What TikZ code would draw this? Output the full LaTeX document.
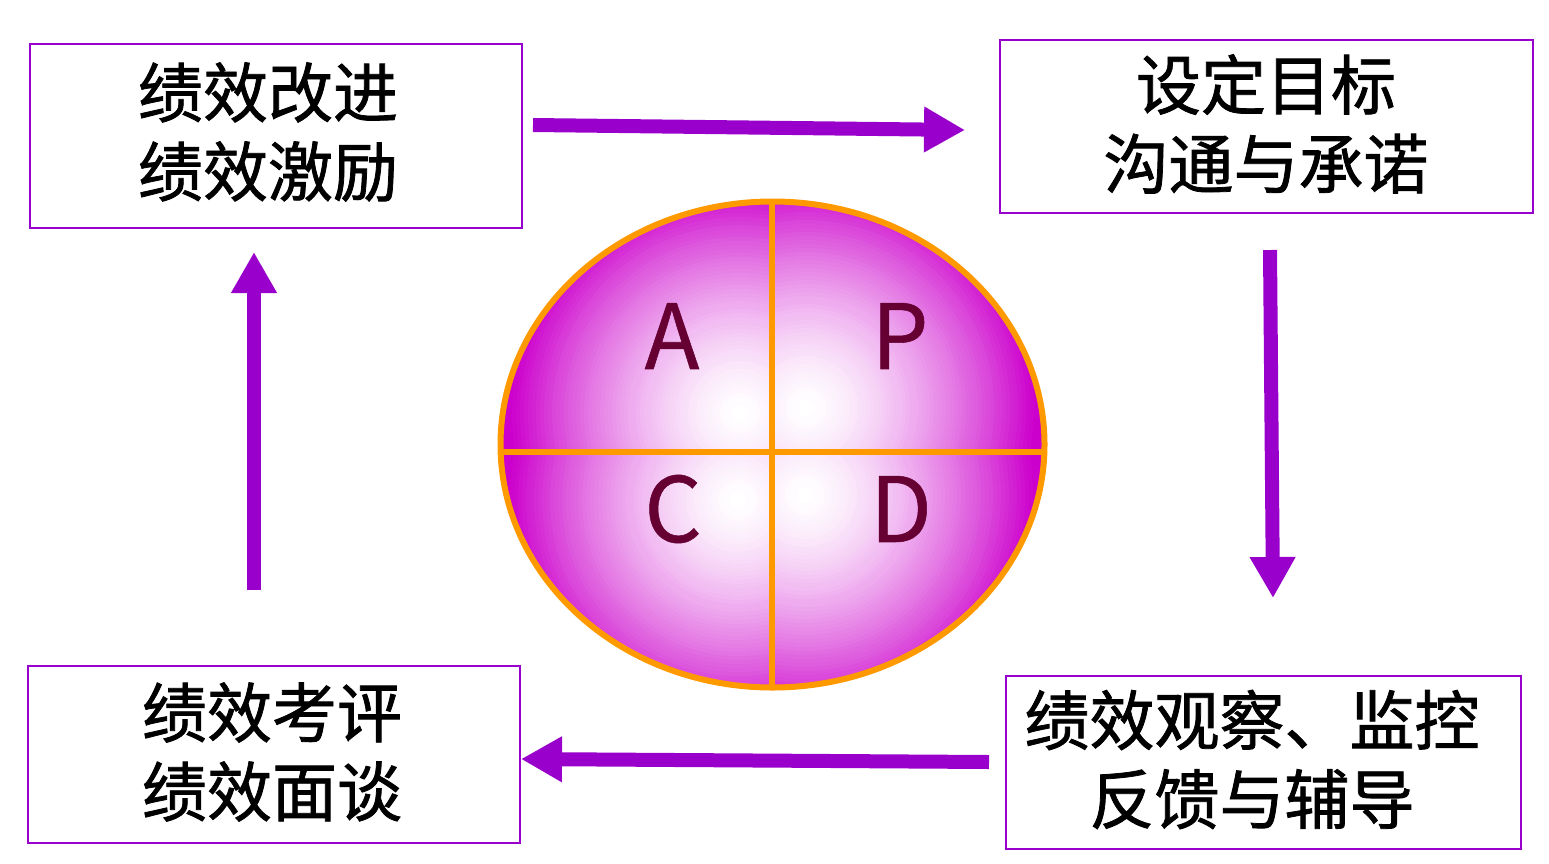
\documentclass[tikz,border=0pt]{standalone}
\usepackage{fontspec}
\newfontfamily\cjk[FakeBold=1.2]{Noto Sans CJK SC}
\newfontfamily\latn[FakeBold=0.6]{Noto Sans CJK SC}
\usetikzlibrary{arrows.meta}
\definecolor{arrowc}{HTML}{9900CC}
\definecolor{boxc}{HTML}{9900CC}
\definecolor{ballmag}{HTML}{CC00CC}
\definecolor{orangec}{HTML}{FF9900}
\definecolor{letterc}{HTML}{660033}
\tikzset{
  boxst/.style={draw=boxc, line width=2pt, rectangle, inner sep=0pt},
  txtst/.style={inner sep=0pt, align=center, font=\cjk\fontsize{65pt}{79pt}\selectfont, text=black},
  bigarrow/.style={draw=arrowc, line width=14pt, -{Triangle[length=41pt,width=43pt]}},
  orline/.style={draw=orangec, line width=6pt},
  letterst/.style={font=\latn\fontsize{90pt}{90pt}\selectfont, text=letterc, inner sep=0pt}
}
\newcommand\ballglow[1]{%
  \foreach \rr in {260,256,...,2}{%
    \pgfmathtruncatemacro\pp{min(100,100*(\rr/230)^1.5)}%
    \fill[ballmag!\pp!white] (#1) circle (\rr);
  }}
\begin{document}
\begin{tikzpicture}[x=1pt,y=-1pt]
\useasboundingbox[fill=white] (0,0) rectangle (1549,863);
% boxes
\node[boxst, minimum width=492pt, minimum height=184pt] (b1) at (276,136) {};
\node[boxst, minimum width=533pt, minimum height=173pt] (b2) at (1266.5,126.5) {};
\node[boxst, minimum width=492pt, minimum height=177pt] (b3) at (274,754.5) {};
\node[boxst, minimum width=515pt, minimum height=173pt] (b4) at (1263.5,762.5) {};
\node[txtst] (t1) at (268,132) {绩效改进\\绩效激励};
\node[txtst] (t2) at (1266,124) {设定目标\\沟通与承诺};
\node[txtst] (t3) at (272,752) {绩效考评\\绩效面谈};
\node[txtst] (t4) at (1252,759.5) {绩效观察、监控\\反馈与辅导};
% ball
\begin{scope}
  \clip (772.5,444.5) ellipse [x radius=272, y radius=243];
  \fill[ballmag] (480,180) rectangle (1070,710);
  \begin{scope}\clip (480,180) rectangle (772,452); \ballglow{740,413} \end{scope}
  \begin{scope}\clip (772,180) rectangle (1070,452); \ballglow{806,408} \end{scope}
  \begin{scope}\clip (480,452) rectangle (772,710); \ballglow{738,500} \end{scope}
  \begin{scope}\clip (772,452) rectangle (1070,710); \ballglow{805,495} \end{scope}
  \draw[orline] (772,150) -- (772,750);
  \draw[orline] (450,452) -- (1100,452);
\end{scope}
\draw[orline] (772.5,444.5) ellipse [x radius=272, y radius=243];
\node[letterst] (la) at (672,336) {A};
\node[letterst] (lp) at (900,336) {P};
\node[letterst] (lc) at (673,509) {C};
\node[letterst] (ld) at (901,509) {D};
% arrows
\coordinate (a1s) at (533,125);
\coordinate (a1e) at (965,130);
\coordinate (a2s) at (1270,250);
\coordinate (a2e) at (1273,598);
\coordinate (a3s) at (989,762);
\coordinate (a3e) at (521,759);
\coordinate (a4s) at (254,590);
\coordinate (a4e) at (254,252);
\draw[bigarrow] (a1s) -- (a1e);
\draw[bigarrow] (a2s) -- (a2e);
\draw[bigarrow] (a3s) -- (a3e);
\draw[bigarrow] (a4s) -- (a4e);
\end{tikzpicture}
\end{document}
